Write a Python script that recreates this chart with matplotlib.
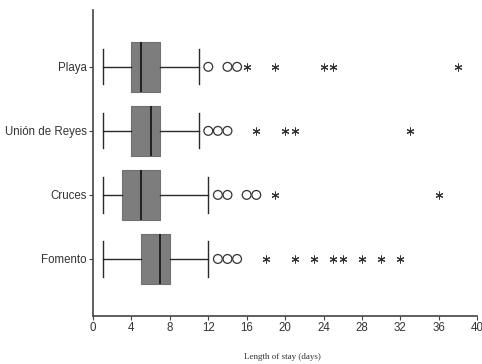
import matplotlib
matplotlib.use("Agg")
import matplotlib.pyplot as plt

categories = ["Playa", "Unión de Reyes", "Cruces", "Fomento"]
whisker_low = [1, 1, 1, 1]
q1 = [4, 4, 3, 5]
median = [5, 6, 5, 7]
q3 = [7, 7, 7, 8]
whisker_high = [11, 11, 12, 12]
circle_outliers = [[12, 14, 15], [12, 13, 14], [13, 14, 16, 17], [13, 14, 15]]
star_outliers = [[16, 19, 24, 25, 38], [17, 20, 21, 33], [19, 36], [18, 21, 23, 25, 26, 28, 30, 32]]
x_ticks = [0, 4, 8, 12, 16, 20, 24, 28, 32, 36, 40]

fig = plt.figure(figsize=(4.82, 3.64), dpi=100)
ax = fig.add_axes([0.193, 0.132, 0.797, 0.841])

positions = [4, 3, 2, 1]
stats = []
for i, c in enumerate(categories):
    stats.append(dict(label=c, whislo=whisker_low[i], q1=q1[i], med=median[i],
                      q3=q3[i], whishi=whisker_high[i], fliers=[]))

ax.bxp(stats, positions=positions, vert=False, widths=0.78, patch_artist=True,
       showfliers=False,
       boxprops=dict(facecolor="#7d7d7d", edgecolor="#707070", linewidth=0.8),
       medianprops=dict(color="#1a1a1a", linewidth=1.3),
       whiskerprops=dict(color="#2a2a2a", linewidth=1.0),
       capprops=dict(color="#2a2a2a", linewidth=1.0), capwidths=0.55)

for i, p in enumerate(positions):
    ax.scatter(circle_outliers[i], [p] * len(circle_outliers[i]), marker="o",
               s=40, facecolors="none", edgecolors="#333333", linewidths=0.9, zorder=3)
    ax.scatter(star_outliers[i], [p] * len(star_outliers[i]), marker=(6, 2, 0),
               s=26, color="#333333", linewidths=0.75, zorder=3)

ax.set_xlim(0, 40)
ax.set_ylim(0.11, 4.89)
ax.set_xticks(x_ticks)
ax.set_xticklabels([str(t) for t in x_ticks])
ax.set_yticks(positions)
ax.set_yticklabels(categories)
for s in ["top", "right"]:
    ax.spines[s].set_visible(False)
for s in ["left", "bottom"]:
    ax.spines[s].set_color("#444444")
    ax.spines[s].set_linewidth(1.2)
ax.tick_params(axis="both", labelsize=8.3, length=3, width=0.8, color="#444444",
               labelcolor="#333333", pad=1.5)
for lab in ax.get_xticklabels() + ax.get_yticklabels():
    lab.set_family("Liberation Sans")

fig.text(0.585, 0.02, "Length of stay (days)", ha="center", va="center",
         fontsize=6.5, family="Liberation Serif", color="#333333")

fig.savefig("out.png", dpi=100)
